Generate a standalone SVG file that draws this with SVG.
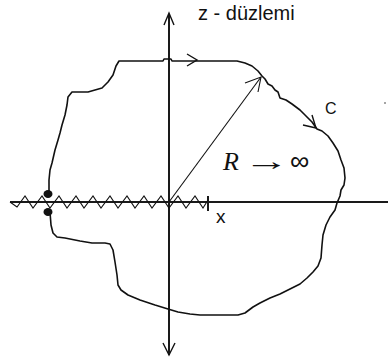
<svg xmlns="http://www.w3.org/2000/svg" width="388" height="363" viewBox="0 0 388 363">
<style>
.axis{stroke:#1a1a1a;stroke-width:2;fill:none}
.contour{stroke:#111;stroke-width:1.6;fill:none;stroke-linejoin:round}
.thin{stroke:#111;stroke-width:1.1;fill:none}
.chev{stroke:#111;stroke-width:1.4;fill:none}
.sans{font-family:"Liberation Sans",Arial,sans-serif;fill:#111}
.serif{font-family:"Liberation Serif","Times New Roman",serif;fill:#111}
</style>
<rect width="388" height="363" fill="#fff"/>
<g id="axes">
<line class="axis" x1="169" y1="14" x2="169" y2="355"/>
<polyline class="chev" points="164,25 169,13 174,25"/>
<polyline class="chev" points="163,343 169,355 175,343"/>
<line class="axis" x1="10" y1="202" x2="388" y2="202"/>
<line class="axis" x1="208" y1="196" x2="208" y2="211"/>
</g>
<g id="branch-cut">
<path class="thin" d="M10,202 L17,207 L25,196 L33,208 L42,196 L50,208 L59,196 L67,208 L76,196 L84,208 L93,196 L101,208 L110,196 L118,208 L127,196 L135,208 L144,196 L152,208 L161,196 L169,208 L178,196 L186,208 L195,196 L203,208 L208,200"/>
<ellipse cx="48" cy="194" rx="4.5" ry="4" fill="#111"/>
<ellipse cx="48" cy="212" rx="4.5" ry="4" fill="#111"/>
</g>
<g id="contour-C">
<path class="contour" d="M49,194 L49,180 L50,170 L52,163 L55,150 L58,140 L60,133 L62,125 L65,115 L67,105 L68,97 L72,92 L88,92 L95,90 L102,88 L108,82 L113,75 L116,66 L119,61 L163,61 L164,59 L171,59 L172,61 L237,61 L245,63 L252,66 L258,71 L262,76 L265,79 L268,84 L272,86 L275,90 L278,92 L280,98 L286,100 L292,104 L300,110 L306,116 L312,122 L317,129 L322,131 L328,136 L333,143 L338,151 L341,160 L344,168 L345,178 L344,185 L341,190 L340,196 L337,203 L335,210 L330,217 L326,225 L323,235 L322,245 L321,258 L318,266 L313,272 L307,278 L300,284 L290,289 L280,294 L270,298 L260,303 L253,307 L245,313 L238,315 L200,315 L190,314 L178,312 L168,309 L155,305 L140,300 L128,295 L121,290 L118,285 L117,275 L115,262 L113,250 L110,244 L105,243 L92,243 L80,241 L65,238 L57,237 L53,233 L51,225 L50,212"/>
<polyline class="chev" points="187,54 197,60 187,66"/>
<polyline class="chev" points="312,115 316,128 303,125"/>
<text class="sans" x="325" y="114" font-size="16">C</text>
<circle cx="385" cy="103" r="0.8" fill="#333"/>
</g>
<g id="radius">
<line class="thin" x1="169" y1="202" x2="261" y2="77"/>
<polyline class="thin" points="245,83 261,77 258,92"/>
<text class="serif" x="223" y="170" font-size="26" font-style="italic">R</text>
<text class="serif" font-size="26" transform="translate(244,170) scale(1.75,1)">→</text>
<text class="sans" x="290" y="170" font-size="27">∞</text>
</g>
<g id="labels">
<text class="sans" x="198" y="20" font-size="20">z - düzlemi</text>
<text class="sans" x="216" y="223" font-size="19">x</text>
</g>
</svg>
